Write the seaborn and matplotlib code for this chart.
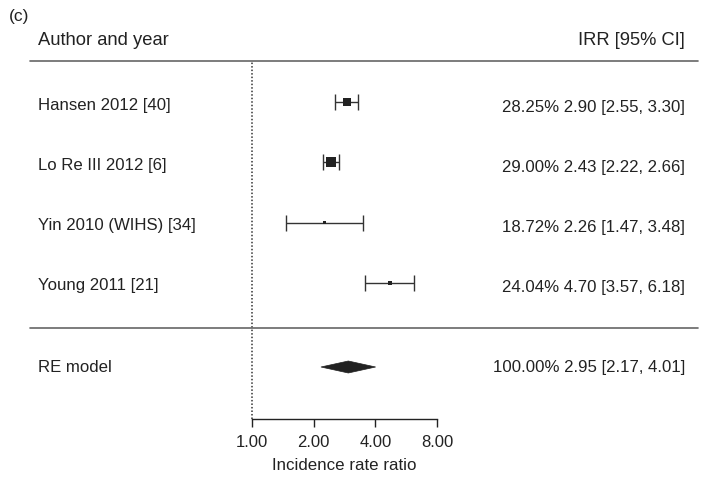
import numpy as np
import pandas as pd
import matplotlib
matplotlib.use("Agg")
import matplotlib.pyplot as plt
import matplotlib.transforms as mtransforms
import seaborn as sns

# ---- data ----
studies = ["Hansen 2012 [40]", "Lo Re III 2012 [6]", "Yin 2010 (WIHS) [34]", "Young 2011 [21]"]
weights = [28.25, 29.00, 18.72, 24.04]
irr = [2.90, 2.43, 2.26, 4.70]
ci_low = [2.55, 2.22, 1.47, 3.57]
ci_high = [3.30, 2.66, 3.48, 6.18]
re_label = "RE model"
re_weight = 100.00
re_est = 2.95
re_low = 2.17
re_high = 4.01
x_ticks = [1, 2, 4, 8]
x_ticklabels = ["1.00", "2.00", "4.00", "8.00"]

sns.set_theme(style="white")
plt.rcParams["font.family"] = ["Liberation Sans", "DejaVu Sans"]

W, H = 708, 481
fig = plt.figure(figsize=(W / 100, H / 100), dpi=100)
ax = fig.add_axes([0, 61 / H, 1, 420 / H])

px_per_doubling = 61.7
x0 = 252
ax.set_xscale("log", base=2)
ax.set_xlim(2 ** (-x0 / px_per_doubling), 2 ** ((W - x0) / px_per_doubling))

row_px = 60.33
def ypx(p):
    return 1 - (p - 284) / row_px

ax.set_ylim(ypx(420), ypx(0))

rows = [4, 3, 2, 1]
re_row = ypx(368)

# marker size based on precision (metafor style)
se = (np.log(ci_high) - np.log(ci_low)) / (2 * 1.96)
wi = 1 / se
psize = (wi - wi.min()) / (wi.max() - wi.min()) + 0.5
ms = 4.8 * psize

df = pd.DataFrame({"study": studies, "irr": irr, "row": rows, "lo": ci_low, "hi": ci_high, "ms": ms})

dark = "#222222"
ax.errorbar(df["irr"], df["row"],
            xerr=[df["irr"] - df["lo"], df["hi"] - df["irr"]],
            fmt="none", ecolor="#333333", elinewidth=1.0, capsize=6, capthick=1.0, zorder=2)
sns.scatterplot(data=df, x="irr", y="row", hue="study", size="study",
                sizes=dict(zip(studies, (ms ** 2))), palette=[dark] * 4,
                marker="s", edgecolor=dark, linewidth=0, legend=False, ax=ax, zorder=3)

# diamond
h = 6 / row_px
ax.fill([re_low, re_est, re_high, re_est], [re_row, re_row + h, re_row, re_row - h],
        color=dark, edgecolor=dark, lw=0.5, zorder=3)

# reference line
ax.plot([1, 1], [ypx(420), ypx(62)], color="#333333", lw=1.1, ls=(0, (1, 1.3)), zorder=1)

# horizontal rules
tr = mtransforms.blended_transform_factory(fig.transFigure, ax.transData)
for yy in [ypx(62), ypx(329)]:
    ax.plot([30 / W, 698 / W], [yy, yy], color="#666666", lw=1.2, transform=tr, clip_on=False)

# axes styling
for s in ["top", "right", "left"]:
    ax.spines[s].set_visible(False)
ax.spines["bottom"].set_bounds(1, 8)
ax.spines["bottom"].set_color("#222222")
ax.spines["bottom"].set_linewidth(1.0)
ax.set_xticks(x_ticks)
ax.set_xticklabels(x_ticklabels)
ax.xaxis.set_minor_locator(matplotlib.ticker.NullLocator())
ax.tick_params(axis="x", bottom=True, length=6, width=1.0, color="#222222",
               labelsize=12, labelcolor=dark, pad=4.5)
ax.set_yticks([])
ax.set_xlabel("Incidence rate ratio", fontsize=12.2, color=dark)
ax.xaxis.set_label_coords(344.5 / W, -(458 - 420) / 420)
ax.set_ylabel("")

fs = 12.1
# header
ax.text(38 / W, ypx(41), "Author and year", transform=tr, ha="left", va="center", fontsize=13.2, color=dark)
ax.text(685 / W, ypx(41), "IRR [95% CI]", transform=tr, ha="right", va="center", fontsize=13.2, color=dark)
fig.text(9 / W, 1 - 17 / H, "(c)", ha="left", va="center", fontsize=12.5, color=dark)

for st, w, e, lo, hi, r in zip(studies, weights, irr, ci_low, ci_high, rows):
    ax.text(38 / W, r - 2 / row_px, st, transform=tr, ha="left", va="center", fontsize=fs, color=dark)
    ax.text(685 / W, r - 4 / row_px, f"{w:.2f}% {e:.2f} [{lo:.2f}, {hi:.2f}]", transform=tr,
            ha="right", va="center", fontsize=fs, color=dark)

ax.text(38 / W, re_row, re_label, transform=tr, ha="left", va="center", fontsize=fs, color=dark)
ax.text(685 / W, re_row, f"{re_weight:.2f}% {re_est:.2f} [{re_low:.2f}, {re_high:.2f}]", transform=tr,
        ha="right", va="center", fontsize=fs, color=dark)

fig.savefig("out.png", dpi=100)
